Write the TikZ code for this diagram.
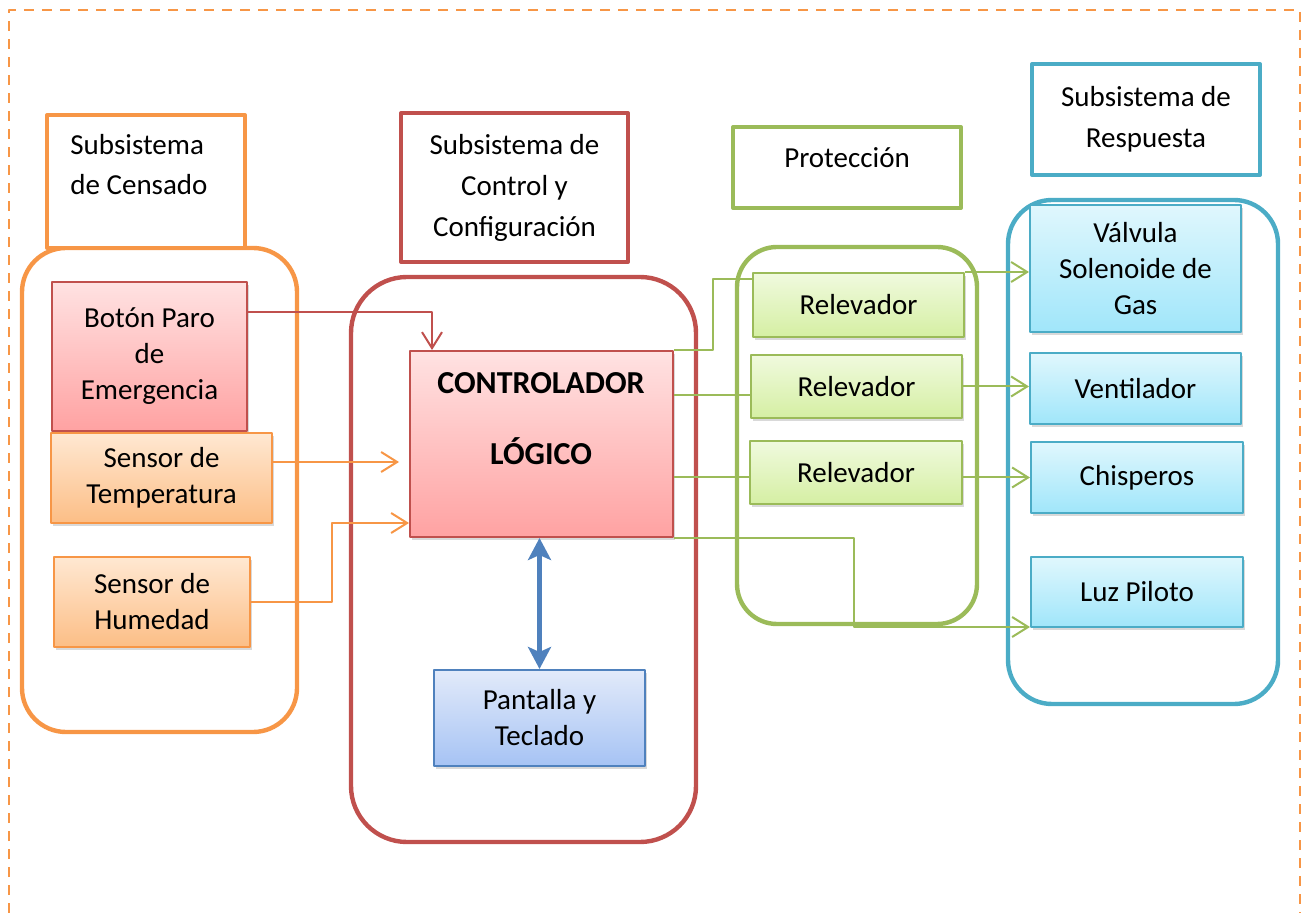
\documentclass[tikz,border=0pt]{standalone}
\usepackage{fontspec}
\setmainfont{Carlito}
\usetikzlibrary{arrows.meta,shadows}
\definecolor{naranja}{HTML}{F79646}
\definecolor{rojo}{HTML}{C0504D}
\definecolor{verde}{HTML}{9BBB59}
\definecolor{azul}{HTML}{4F81BD}
\definecolor{turquesa}{HTML}{4BACC6}
\tikzset{
	caja/.style={draw, line width=1pt, inner sep=0pt, align=center,
		drop shadow={shadow xshift=1.2pt, shadow yshift=-1.5pt, opacity=.3}},
	cajaroja/.style={caja, draw=rojo, top color={rgb,255:red,255;green,226;blue,226}, bottom color={rgb,255:red,255;green,162;blue,162}},
	cajanaranja/.style={caja, draw=naranja, top color={rgb,255:red,255;green,232;blue,210}, bottom color={rgb,255:red,252;green,190;blue,134}},
	cajaverde/.style={caja, draw=verde, top color={rgb,255:red,240;green,250;blue,222}, bottom color={rgb,255:red,213;green,239;blue,163}},
	cajacian/.style={caja, draw=turquesa, top color={rgb,255:red,224;green,247;blue,253}, bottom color={rgb,255:red,160;green,230;blue,250}},
	cajaazul/.style={caja, draw=azul, top color={rgb,255:red,226;green,234;blue,250}, bottom color={rgb,255:red,166;green,195;blue,244}},
	grupo/.style={draw=#1, line width=2.2pt, rounded corners=22pt, inner sep=0pt},
	titulo/.style={draw=#1, line width=2pt, fill=white, inner sep=0pt, align=center,
		font=\fontsize{14.5pt}{20.5pt}\selectfont},
	flecha/.style={line width=1pt, -{Straight Barb[length=8pt, width=10pt]}},
	linea/.style={verde, line width=1pt},
	tam/.style 2 args={minimum width=#1pt, minimum height=#2pt}
}
\begin{document}
\begin{tikzpicture}[x=0.5pt, y=-0.5pt, line join=round, font=\fontsize{14.5pt}{18pt}\selectfont]
	\useasboundingbox (0,0) rectangle (1304,913);
	\draw[naranja, line width=1pt, dash pattern=on 5pt off 4pt] (9,913) -- (9,10) -- (1300,10) -- (1300,913);

	% contenedores
	\node[grupo=naranja, tam={137.5}{242}] (gcensado) at (159.5,490) {};
	\node[grupo=rojo, rounded corners=28pt, tam={172.5}{282.5}] (gcontrol) at (523.5,559.5) {};
	\node[grupo=verde, rounded corners=20pt, tam={120}{188.5}] (gproteccion) at (857,435.5) {};
	\node[grupo=turquesa, tam={135}{252}] (grespuesta) at (1143,452) {};

	% titulos
	\node[titulo=naranja, tam={99}{66.5}] (tcensado) at (146,181.5) {};
	\node[anchor=north west, align=left, inner sep=0pt, font=\fontsize{14.5pt}{20pt}\selectfont] (ttcensado) at (70,134) {Subsistema\\de Censado};
	\node[titulo=rojo, tam={113.5}{74.5}] (tcontrol) at (514.5,187.5) {Subsistema de\\Control y\\Configuración};
	\node[titulo=verde, tam={114}{40.5}] (tproteccion) at (847,167.5) {};
	\node[anchor=base, inner sep=0pt] (ttproteccion) at (847,168) {Protección};
	\node[titulo=turquesa, tam={114}{55.5}] (trespuesta) at (1146,119.5) {Subsistema de\\Respuesta};

	% censado
	\node[cajaroja, tam={97.5}{74.5}] (boton) at (149.5,356.5) {Botón Paro\\de\\Emergencia};
	\node[cajanaranja, tam={110.5}{45}] (temp) at (161.5,478) {Sensor de\\Temperatura};
	\node[cajanaranja, tam={98}{45}] (hum) at (152,602) {Sensor de\\Humedad};

	% control
	\node[cajaroja, tam={131.5}{93}] (ctrl) at (541.5,444) {};
	\node[anchor=base, inner sep=0pt, font=\fontsize{16pt}{18pt}\selectfont\bfseries] (tctrl1) at (541,394) {CONTROLADOR};
	\node[anchor=base, inner sep=0pt, font=\fontsize{16pt}{18pt}\selectfont\bfseries] (tctrl2) at (541,465) {LÓGICO};
	\node[cajaazul, tam={105.5}{48}] (pant) at (539.5,718) {Pantalla y\\Teclado};

	% proteccion
	\node[cajaverde, tam={105.5}{32}] (rel1) at (858.5,305) {Relevador};
	\node[cajaverde, tam={105.5}{31.5}] (rel2) at (856.5,386.5) {Relevador};
	\node[cajaverde, tam={106}{31.5}] (rel3) at (856,472.5) {Relevador};

	% respuesta
	\node[cajacian, tam={105.5}{63.5}] (valv) at (1135.5,268.5) {Válvula\\Solenoide de\\Gas};
	\node[cajacian, tam={105.5}{35.5}] (vent) at (1135.5,388.5) {Ventilador};
	\node[cajacian, tam={106}{35.5}] (chis) at (1137,477.5) {Chisperos};
	\node[cajacian, tam={106}{35}] (luz) at (1137,592) {Luz Piloto};

	% conectores
	\coordinate (t0) at ([yshift=8pt]temp.east);
	\coordinate (e2) at ([yshift=-4.5pt]rel2.west);
	\draw[flecha, rojo] ([yshift=-15.5pt]boton.north east) -| ([xshift=11.5pt]ctrl.north west);
	\draw[flecha, naranja, shorten >=5pt] (t0) -- (t0 -| ctrl.west);
	\draw[flecha, naranja] (hum.east) -- ++(81,0) |- ([yshift=7.5pt]ctrl.south west);
	\draw[azul, line width=2.5pt, {Stealth[length=11pt, width=11.5pt, inset=2.5pt]}-{Stealth[length=11pt, width=11.5pt, inset=2.5pt]}] (pant.north |- ctrl.south) -- (pant.north);
	\draw[linea] (ctrl.north east) -- ++(39,0) |- ([yshift=-3.5pt]rel1.north west);
	\draw[linea] (ctrl.east |- e2) -- (e2);
	\draw[linea] (ctrl.east |- chis.west) -- (rel3.west |- chis.west);
	\draw[flecha, verde] (rel1.north east) -- (rel1.north east -| valv.west);
	\draw[flecha, verde] (rel2.east) -- (rel2.east -| vent.west);
	\draw[flecha, verde] (rel3.east |- chis.west) -- (chis.west);
	\draw[flecha, verde] (ctrl.south east) -- ++(180,0) |- ([yshift=0.5pt]luz.south west);
\end{tikzpicture}
\end{document}
